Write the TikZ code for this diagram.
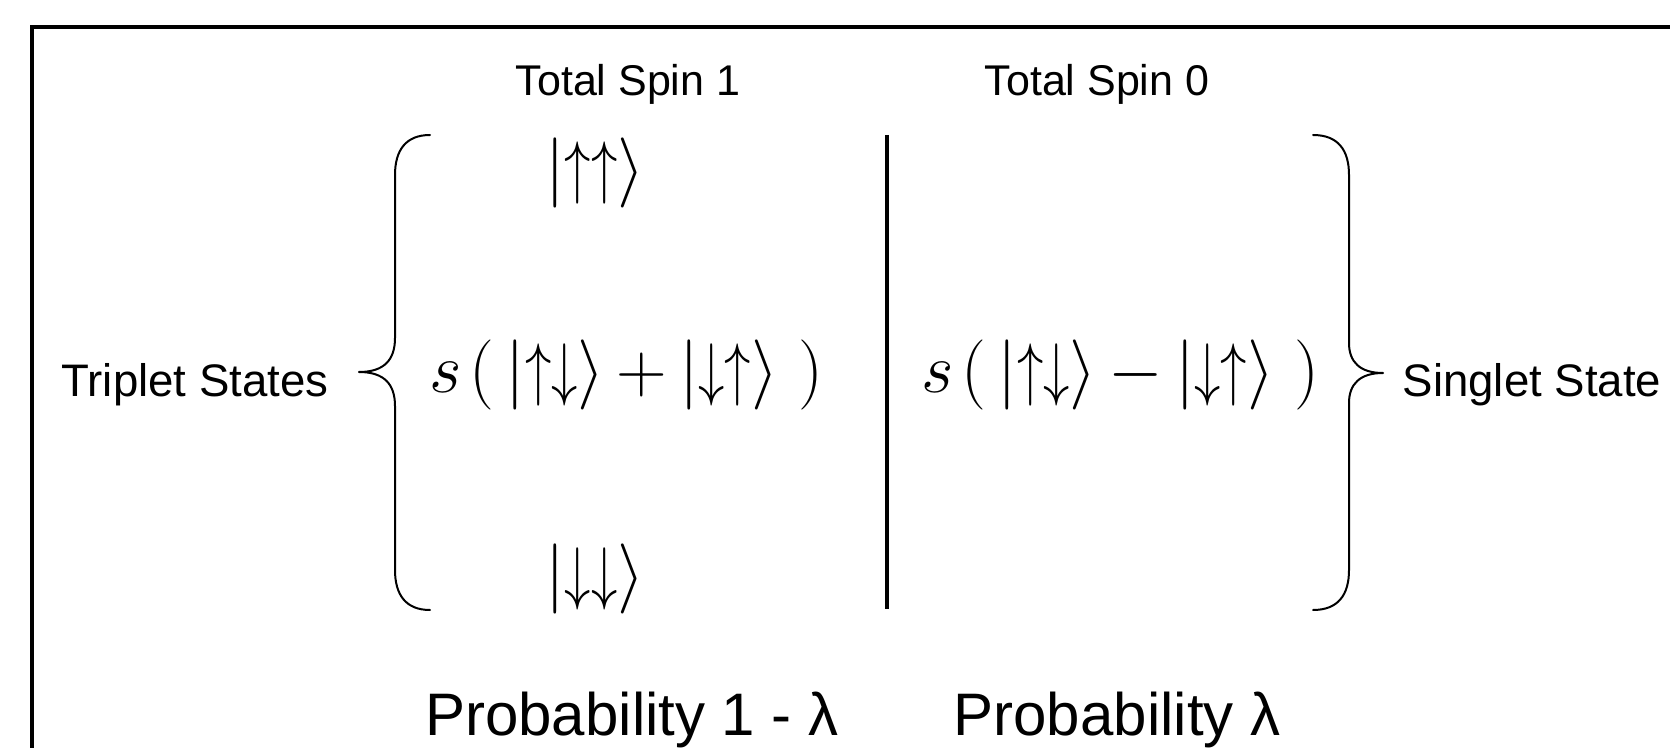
\documentclass[tikz,border=0pt]{standalone}
\usepackage{fontspec}
\setmainfont{Liberation Sans}
\usepackage{graphicx}
\newcommand{\upa}{\mathord{\scalebox{0.75}[1]{$\uparrow$}}}
\newcommand{\dna}{\mathord{\scalebox{0.75}[1]{$\downarrow$}}}
\newcommand{\myket}[1]{\big|#1\big\rangle}
\newcommand{\bigeq}[1]{\scalebox{1.41}{\Huge$#1$}}
\newcommand{\opn}{\mkern2mu\bigl(\mkern3mu}
\begin{document}
\begin{tikzpicture}[x=0.5pt,y=-0.5pt,
  lbl/.style={inner sep=0pt,anchor=base,font=\fontsize{21.5}{26}\selectfont},
  side/.style={inner sep=0pt,anchor=base,font=\fontsize{22.8}{27}\selectfont},
  prob/.style={inner sep=0pt,anchor=base,font=\fontsize{30}{36}\selectfont},
  eq/.style={inner sep=0pt},
  bracestyle/.style={line width=1pt,line cap=round,line join=round},
  heavy/.style={line width=1.6pt}]
\useasboundingbox (0,0) rectangle (1670,748);
% frame
\draw[heavy] (32,748) -- (32,27) -- (1670,27);
% headings
\node[lbl] (ts1) at (628,96) {Total Spin 1};
\node[lbl] (ts0) at (1097,96) {Total Spin 0};
% side labels
\node[side] (trip) at (195,397) {Triplet States};
\node[side] (sing) at (1532,397) {Singlet State};
% states
\node[eq] (uu) at (595,173) {\bigeq{\myket{\upa\upa}}};
\node[eq] (tz) at (626,375) {\bigeq{s\opn\myket{\upa\dna}\mkern3mu{+}\mkern3mu\myket{\dna\upa}\;\bigr)}};
\node[eq] (dd) at (595,579) {\bigeq{\myket{\dna\dna}}};
\node[eq] (sz) at (1120,375) {\bigeq{s\opn\myket{\upa\dna}\mkern3mu{-}\mkern3mu\myket{\dna\upa}\;\bigr)}};
% probabilities
\node[prob] (p1) at (632,735) {Probability 1 - λ};
\node[prob] (p0) at (1117,735) {Probability λ};
% divider
\coordinate (vtop) at (887,135);
\coordinate (vbot) at (887,609);
\draw[heavy] (vtop) -- (vbot);
% left brace
\draw[bracestyle] (430,135) .. controls (406,135) and (395,150) .. (395,175)
  -- (395,338) .. controls (395,360) and (384,372) .. (359,372)
  .. controls (384,372) and (395,384) .. (395,406)
  -- (395,570) .. controls (395,595) and (406,610) .. (430,610);
% right brace
\draw[bracestyle] (1313,135) .. controls (1338,135) and (1349,150) .. (1349,175)
  -- (1349,343) .. controls (1349,362) and (1360,373) .. (1383,373)
  .. controls (1360,373) and (1349,384) .. (1349,403)
  -- (1349,570) .. controls (1349,595) and (1338,610) .. (1313,610);
\end{tikzpicture}
\end{document}
